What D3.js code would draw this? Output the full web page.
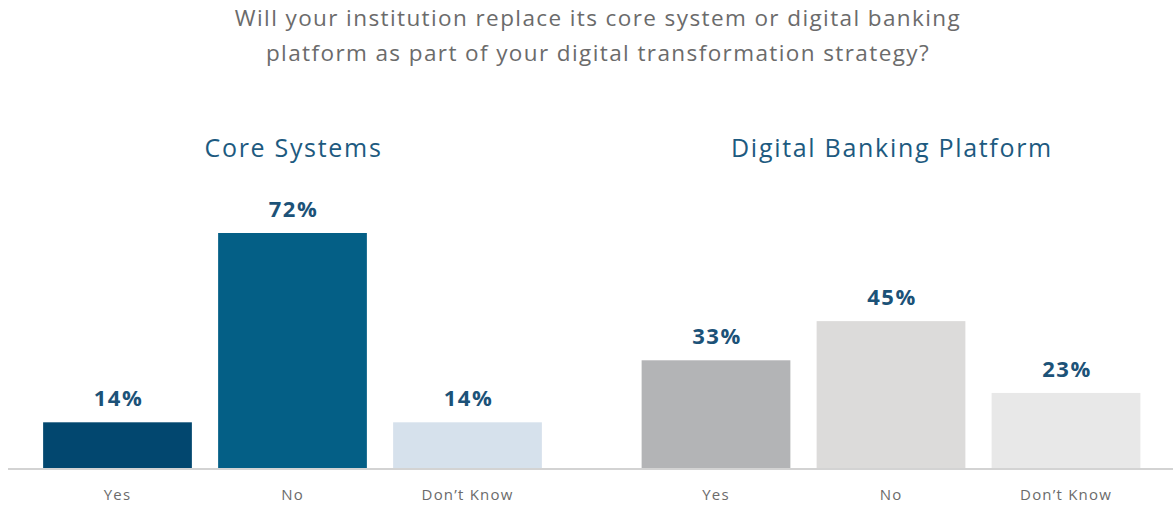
<!DOCTYPE html>
<html>
<head>
<meta charset="utf-8">
<script src="https://cdn.jsdelivr.net/npm/d3@7"></script>
<style>
  html, body { margin: 0; padding: 0; background: #fff; }
  svg { display: block; font-family: "Open Sans", "DejaVu Sans", sans-serif; }
</style>
</head>
<body>
<svg id="chart" width="1173" height="505"></svg>
<script>
// Survey responses (percent) for each platform
const answers = ["Yes", "No", "Don\u2019t Know"];
const coreValues = [14, 72, 14];
const digitalValues = [33, 45, 23];
const panelTitles = ["Core Systems", "Digital Banking Platform"];
const titleLines = [
  "Will your institution replace its core system or digital banking",
  "platform as part of your digital transformation strategy?"
];
const coreColors = ["#02476f", "#045f86", "#d6e1ec"];
const digitalColors = ["#b3b4b6", "#dcdbda", "#e8e8e8"];

const svg = d3.select("#chart");
const W = 1173, baseY = 468;

// Shared vertical scale so both panels are comparable
const y = d3.scaleLinear().domain([0, 72]).range([baseY, 233]);

// Chart title
svg.append("g").selectAll("text").data(titleLines).join("text")
  .attr("x", 598).attr("y", (d, i) => 26 + i * 35)
  .attr("text-anchor", "middle")
  .attr("font-size", 22.5).attr("letter-spacing", 1.4).attr("fill", "#6b6b6b")
  .text(d => d);

const panels = [
  { title: panelTitles[0], values: coreValues, colors: coreColors, range: [30, 555] },
  { title: panelTitles[1], values: digitalValues, colors: digitalColors, range: [628.5, 1153.5] }
];

// Baseline rule
svg.append("line")
  .attr("x1", 8).attr("x2", W).attr("y1", baseY + 1).attr("y2", baseY + 1)
  .attr("stroke", "#d3d3d3").attr("stroke-width", 2);

panels.forEach(p => {
  const x = d3.scaleBand().domain(answers).range(p.range).paddingInner(0.15).paddingOuter(0.075);
  const g = svg.append("g");
  const mid = (p.range[0] + p.range[1]) / 2;

  g.append("text")
    .attr("x", mid + 1).attr("y", 157)
    .attr("text-anchor", "middle")
    .attr("font-size", 25).attr("letter-spacing", 1.7).attr("fill", "#1d5a80")
    .text(p.title);

  const rows = answers.map((a, i) => ({ a, v: p.values[i], c: p.colors[i] }));

  g.selectAll("rect").data(rows).join("rect")
    .attr("x", d => x(d.a)).attr("width", x.bandwidth())
    .attr("y", d => y(d.v)).attr("height", d => baseY - y(d.v))
    .attr("fill", d => d.c);

  g.selectAll("text.val").data(rows).join("text")
    .attr("class", "val")
    .attr("x", d => x(d.a) + x.bandwidth() / 2 + 1)
    .attr("y", d => y(d.v) - 16)
    .attr("text-anchor", "middle")
    .attr("font-size", 22).attr("letter-spacing", 1.5).attr("font-weight", 700).attr("fill", "#1c5278")
    .text(d => d.v + "%");

  // Category axis along the baseline
  const axis = g.append("g").attr("transform", `translate(0,${baseY})`)
    .call(d3.axisBottom(x).tickSize(0).tickPadding(21));
  axis.select(".domain").remove();
  axis.selectAll("text").attr("font-size", 15).attr("letter-spacing", 1.2).attr("fill", "#6b6b6b")
    .attr("font-family", "\"Open Sans\", sans-serif");
});
</script>
</body>
</html>
